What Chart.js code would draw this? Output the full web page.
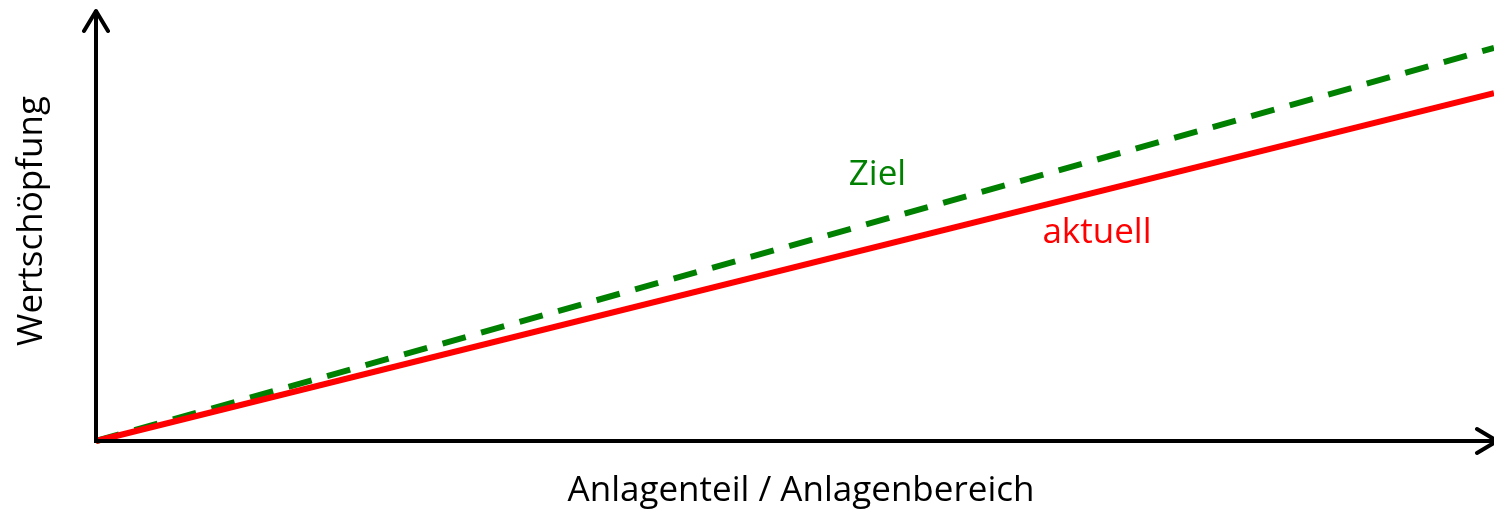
<!DOCTYPE html>
<html lang="de">
<head>
  <meta charset="UTF-8" />
  <title>Wertschöpfung</title>
  <script src="https://cdn.jsdelivr.net/npm/chart.js"></script>
  <style>
    html, body { margin: 0; padding: 0; background: #fff; }
    .wrap { width: 1494px; height: 515px; }
  </style>
</head>
<body>
  <div class="wrap"><canvas id="chart"></canvas></div>
  <script>
  // data
  const xValues = [0, 100];
  const aktuell = [0, 80.7];
  const ziel = [0, 91.2];
  const xTitle = 'Anlagenteil / Anlagenbereich';
  const yTitle = 'Wertschöpfung';
  // series labels placed on the plot (in data units)
  const seriesLabels = [
    { text: 'Ziel', x: 55.9, y: 61.7, color: '#008000' },
    { text: 'aktuell', x: 71.6, y: 48.3, color: '#ff0000' }
  ];

  const FONT = "'Open Sans', sans-serif";

  // axes with arrow heads, axis titles, in-plot labels
  const axesPlugin = {
    id: 'axesArrows',
    afterDatasetsDraw(chart) {
      const { ctx, chartArea, scales } = chart;
      const x0 = scales.x.getPixelForValue(0);
      const y0 = scales.y.getPixelForValue(0);
      const yTop = chartArea.top;
      const xEnd = chartArea.right + 3;
      ctx.save();
      ctx.strokeStyle = '#000';
      ctx.lineWidth = 4;
      ctx.lineCap = 'butt';
      ctx.beginPath();
      ctx.moveTo(x0, y0 + 2);
      ctx.lineTo(x0, yTop);
      ctx.moveTo(x0 - 2, y0);
      ctx.lineTo(xEnd, y0);
      ctx.stroke();
      // arrow heads
      ctx.lineCap = 'round';
      ctx.lineJoin = 'round';
      ctx.beginPath();
      ctx.moveTo(x0 - 12, yTop + 21);
      ctx.lineTo(x0, yTop + 1);
      ctx.lineTo(x0 + 12, yTop + 21);
      ctx.moveTo(xEnd - 20, y0 - 12);
      ctx.lineTo(xEnd, y0);
      ctx.lineTo(xEnd - 20, y0 + 12);
      ctx.stroke();

      // axis titles
      ctx.fillStyle = '#000';
      ctx.font = '35px ' + FONT;
      ctx.textAlign = 'center';
      ctx.textBaseline = 'middle';
      ctx.fillText(xTitle, 801, 491);
      ctx.translate(32, 221);
      ctx.rotate(-Math.PI / 2);
      ctx.fillText(yTitle, 0, 0);
      ctx.restore();

      ctx.save();
      ctx.font = '35px ' + FONT;
      ctx.textAlign = 'center';
      ctx.textBaseline = 'middle';
      seriesLabels.forEach(l => {
        ctx.fillStyle = l.color;
        ctx.fillText(l.text, scales.x.getPixelForValue(l.x), scales.y.getPixelForValue(l.y));
      });
      ctx.restore();
    }
  };

  new Chart(document.getElementById('chart'), {
    type: 'line',
    data: {
      labels: xValues,
      datasets: [
        {
          label: 'aktuell',
          data: xValues.map((x, i) => ({ x, y: aktuell[i] })),
          borderColor: '#ff0000',
          borderWidth: 6,
          pointRadius: 0,
          clip: false
        },
        {
          label: 'Ziel',
          data: xValues.map((x, i) => ({ x, y: ziel[i] })),
          borderColor: '#008000',
          borderWidth: 6,
          borderDash: [24, 16],
          borderCapStyle: 'butt',
          pointRadius: 0,
          clip: false
        }
      ]
    },
    options: {
      responsive: true,
      maintainAspectRatio: false,
      animation: false,
      layout: { padding: { left: 96, right: 0, top: 10, bottom: 74 } },
      plugins: {
        legend: { display: false },
        tooltip: { enabled: false }
      },
      scales: {
        x: { type: 'linear', min: 0, max: 100, display: false },
        y: { min: 0, max: 100, display: false }
      }
    },
    plugins: [axesPlugin]
  });
  </script>
</body>
</html>
